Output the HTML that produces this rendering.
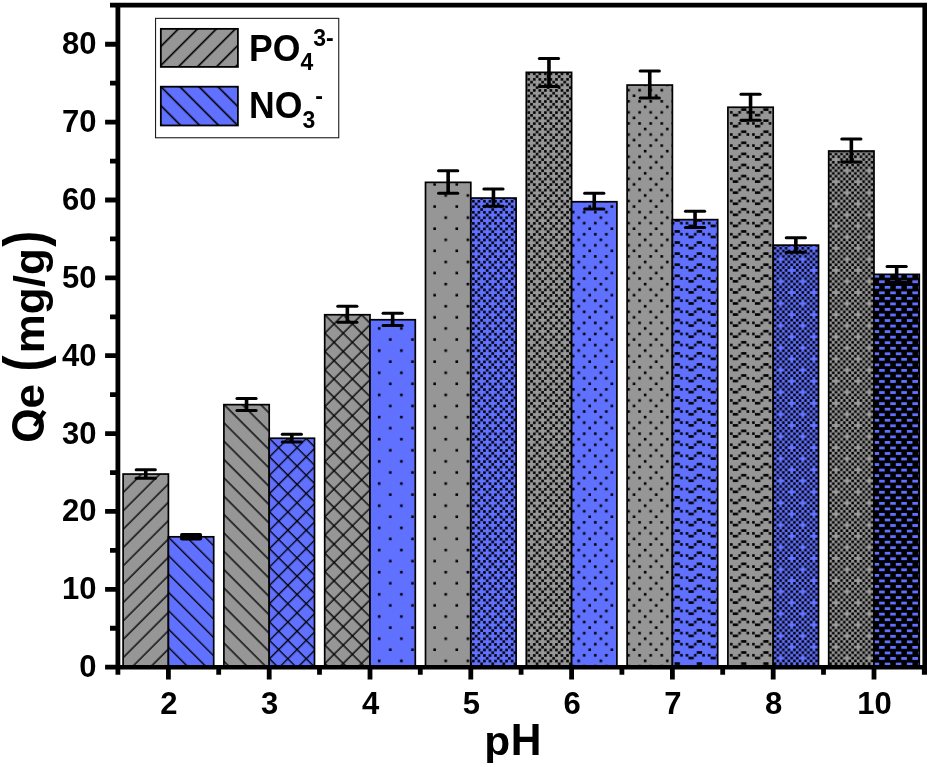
<!DOCTYPE html>
<html><head><meta charset="utf-8"><style>
html,body{margin:0;padding:0;background:#fff;width:930px;height:767px;overflow:hidden}
svg{display:block;font-family:"Liberation Sans",sans-serif;will-change:transform}
</style></head><body>
<svg width="930" height="767" viewBox="0 0 930 767">
<defs><pattern id="dspg" patternUnits="userSpaceOnUse" x="17.75" y="11.27" width="22.16" height="22.16"><rect width="22.16" height="22.16" fill="#969696"/><rect x="5.640" y="5.640" width="2.570" height="2.570" fill="#000"/><rect x="16.720" y="16.720" width="2.570" height="2.570" fill="#000"/></pattern><pattern id="dmeg" patternUnits="userSpaceOnUse" x="17.75" y="11.27" width="22.16" height="22.16"><rect width="22.16" height="22.16" fill="#969696"/><rect x="0.100" y="0.100" width="2.570" height="2.570" fill="#000"/><rect x="11.180" y="0.100" width="2.570" height="2.570" fill="#000"/><rect x="5.640" y="5.640" width="2.570" height="2.570" fill="#000"/><rect x="0.100" y="11.180" width="2.570" height="2.570" fill="#000"/><rect x="11.180" y="11.180" width="2.570" height="2.570" fill="#000"/><rect x="16.720" y="16.720" width="2.570" height="2.570" fill="#000"/></pattern><pattern id="ddeg" patternUnits="userSpaceOnUse" x="6.6" y="0.4" width="11.08" height="11.08"><rect width="11.08" height="11.08" fill="#969696"/><rect x="0.100" y="0.100" width="2.570" height="2.570" fill="#000"/><rect x="5.640" y="0.100" width="2.570" height="2.570" fill="#000"/><rect x="2.870" y="2.870" width="2.570" height="2.570" fill="#000"/><rect x="0.100" y="5.640" width="2.570" height="2.570" fill="#000"/><rect x="5.640" y="5.640" width="2.570" height="2.570" fill="#000"/><rect x="8.410" y="8.410" width="2.570" height="2.570" fill="#000"/></pattern><pattern id="wavg" patternUnits="userSpaceOnUse" x="20.78" y="8.47" width="22.16" height="11.08"><rect width="22.16" height="11.08" fill="#969696"/><rect x="11.180" y="0.100" width="5.340" height="2.570" fill="#000"/><rect x="0.100" y="2.870" width="2.570" height="2.570" fill="#000"/><rect x="8.410" y="2.870" width="2.570" height="2.570" fill="#000"/><rect x="16.720" y="2.870" width="2.570" height="2.570" fill="#000"/><rect x="2.870" y="5.640" width="5.340" height="2.570" fill="#000"/></pattern><pattern id="chkg" patternUnits="userSpaceOnUse" x="14.7" y="3.02" width="22.16" height="22.16"><rect width="22.16" height="22.16" fill="#969696"/><rect x="5.640" y="0.100" width="2.570" height="2.570" fill="#000"/><rect x="11.180" y="0.100" width="2.570" height="2.570" fill="#000"/><rect x="16.720" y="0.100" width="2.570" height="2.570" fill="#000"/><rect x="2.870" y="2.870" width="2.570" height="2.570" fill="#000"/><rect x="8.410" y="2.870" width="2.570" height="2.570" fill="#000"/><rect x="13.950" y="2.870" width="2.570" height="2.570" fill="#000"/><rect x="19.490" y="2.870" width="2.570" height="2.570" fill="#000"/><rect x="0.100" y="5.640" width="2.570" height="2.570" fill="#000"/><rect x="5.640" y="5.640" width="2.570" height="2.570" fill="#000"/><rect x="11.180" y="5.640" width="2.570" height="2.570" fill="#000"/><rect x="16.720" y="5.640" width="2.570" height="2.570" fill="#000"/><rect x="2.870" y="8.410" width="2.570" height="2.570" fill="#000"/><rect x="8.410" y="8.410" width="2.570" height="2.570" fill="#000"/><rect x="13.950" y="8.410" width="2.570" height="2.570" fill="#000"/><rect x="19.490" y="8.410" width="2.570" height="2.570" fill="#000"/><rect x="0.100" y="11.180" width="2.570" height="2.570" fill="#000"/><rect x="5.640" y="11.180" width="2.570" height="2.570" fill="#000"/><rect x="16.720" y="11.180" width="2.570" height="2.570" fill="#000"/><rect x="2.870" y="13.950" width="2.570" height="2.570" fill="#000"/><rect x="8.410" y="13.950" width="2.570" height="2.570" fill="#000"/><rect x="13.950" y="13.950" width="2.570" height="2.570" fill="#000"/><rect x="19.490" y="13.950" width="2.570" height="2.570" fill="#000"/><rect x="0.100" y="16.720" width="2.570" height="2.570" fill="#000"/><rect x="5.640" y="16.720" width="2.570" height="2.570" fill="#000"/><rect x="11.180" y="16.720" width="2.570" height="2.570" fill="#000"/><rect x="16.720" y="16.720" width="2.570" height="2.570" fill="#000"/><rect x="2.870" y="19.490" width="2.570" height="2.570" fill="#000"/><rect x="8.410" y="19.490" width="2.570" height="2.570" fill="#000"/><rect x="13.950" y="19.490" width="2.570" height="2.570" fill="#000"/><rect x="19.490" y="19.490" width="2.570" height="2.570" fill="#000"/></pattern><pattern id="dashg" patternUnits="userSpaceOnUse" x="9.38" y="8.9" width="11.08" height="11.08"><rect width="11.08" height="11.08" fill="#000"/><rect x="-0.050" y="-0.050" width="5.640" height="2.870" fill="#969696"/><rect x="5.490" y="5.490" width="5.640" height="2.870" fill="#969696"/></pattern><pattern id="dspb" patternUnits="userSpaceOnUse" x="17.75" y="11.27" width="22.16" height="22.16"><rect width="22.16" height="22.16" fill="#6070ff"/><rect x="5.640" y="5.640" width="2.570" height="2.570" fill="#000"/><rect x="16.720" y="16.720" width="2.570" height="2.570" fill="#000"/></pattern><pattern id="dmeb" patternUnits="userSpaceOnUse" x="17.75" y="11.27" width="22.16" height="22.16"><rect width="22.16" height="22.16" fill="#6070ff"/><rect x="0.100" y="0.100" width="2.570" height="2.570" fill="#000"/><rect x="11.180" y="0.100" width="2.570" height="2.570" fill="#000"/><rect x="5.640" y="5.640" width="2.570" height="2.570" fill="#000"/><rect x="0.100" y="11.180" width="2.570" height="2.570" fill="#000"/><rect x="11.180" y="11.180" width="2.570" height="2.570" fill="#000"/><rect x="16.720" y="16.720" width="2.570" height="2.570" fill="#000"/></pattern><pattern id="ddeb" patternUnits="userSpaceOnUse" x="6.6" y="0.4" width="11.08" height="11.08"><rect width="11.08" height="11.08" fill="#6070ff"/><rect x="0.100" y="0.100" width="2.570" height="2.570" fill="#000"/><rect x="5.640" y="0.100" width="2.570" height="2.570" fill="#000"/><rect x="2.870" y="2.870" width="2.570" height="2.570" fill="#000"/><rect x="0.100" y="5.640" width="2.570" height="2.570" fill="#000"/><rect x="5.640" y="5.640" width="2.570" height="2.570" fill="#000"/><rect x="8.410" y="8.410" width="2.570" height="2.570" fill="#000"/></pattern><pattern id="wavb" patternUnits="userSpaceOnUse" x="20.78" y="8.47" width="22.16" height="11.08"><rect width="22.16" height="11.08" fill="#6070ff"/><rect x="11.180" y="0.100" width="5.340" height="2.570" fill="#000"/><rect x="0.100" y="2.870" width="2.570" height="2.570" fill="#000"/><rect x="8.410" y="2.870" width="2.570" height="2.570" fill="#000"/><rect x="16.720" y="2.870" width="2.570" height="2.570" fill="#000"/><rect x="2.870" y="5.640" width="5.340" height="2.570" fill="#000"/></pattern><pattern id="chkb" patternUnits="userSpaceOnUse" x="14.7" y="3.02" width="22.16" height="22.16"><rect width="22.16" height="22.16" fill="#6070ff"/><rect x="5.640" y="0.100" width="2.570" height="2.570" fill="#000"/><rect x="11.180" y="0.100" width="2.570" height="2.570" fill="#000"/><rect x="16.720" y="0.100" width="2.570" height="2.570" fill="#000"/><rect x="2.870" y="2.870" width="2.570" height="2.570" fill="#000"/><rect x="8.410" y="2.870" width="2.570" height="2.570" fill="#000"/><rect x="13.950" y="2.870" width="2.570" height="2.570" fill="#000"/><rect x="19.490" y="2.870" width="2.570" height="2.570" fill="#000"/><rect x="0.100" y="5.640" width="2.570" height="2.570" fill="#000"/><rect x="5.640" y="5.640" width="2.570" height="2.570" fill="#000"/><rect x="11.180" y="5.640" width="2.570" height="2.570" fill="#000"/><rect x="16.720" y="5.640" width="2.570" height="2.570" fill="#000"/><rect x="2.870" y="8.410" width="2.570" height="2.570" fill="#000"/><rect x="8.410" y="8.410" width="2.570" height="2.570" fill="#000"/><rect x="13.950" y="8.410" width="2.570" height="2.570" fill="#000"/><rect x="19.490" y="8.410" width="2.570" height="2.570" fill="#000"/><rect x="0.100" y="11.180" width="2.570" height="2.570" fill="#000"/><rect x="5.640" y="11.180" width="2.570" height="2.570" fill="#000"/><rect x="16.720" y="11.180" width="2.570" height="2.570" fill="#000"/><rect x="2.870" y="13.950" width="2.570" height="2.570" fill="#000"/><rect x="8.410" y="13.950" width="2.570" height="2.570" fill="#000"/><rect x="13.950" y="13.950" width="2.570" height="2.570" fill="#000"/><rect x="19.490" y="13.950" width="2.570" height="2.570" fill="#000"/><rect x="0.100" y="16.720" width="2.570" height="2.570" fill="#000"/><rect x="5.640" y="16.720" width="2.570" height="2.570" fill="#000"/><rect x="11.180" y="16.720" width="2.570" height="2.570" fill="#000"/><rect x="16.720" y="16.720" width="2.570" height="2.570" fill="#000"/><rect x="2.870" y="19.490" width="2.570" height="2.570" fill="#000"/><rect x="8.410" y="19.490" width="2.570" height="2.570" fill="#000"/><rect x="13.950" y="19.490" width="2.570" height="2.570" fill="#000"/><rect x="19.490" y="19.490" width="2.570" height="2.570" fill="#000"/></pattern><pattern id="dashb" patternUnits="userSpaceOnUse" x="9.38" y="8.9" width="11.08" height="11.08"><rect width="11.08" height="11.08" fill="#000"/><rect x="-0.050" y="-0.050" width="5.640" height="2.870" fill="#6070ff"/><rect x="5.490" y="5.490" width="5.640" height="2.870" fill="#6070ff"/></pattern><pattern id="hg0" patternUnits="userSpaceOnUse" width="12.9754" height="12.9754" patternTransform="rotate(45)"><rect width="12.9754" height="12.9754" fill="#969696"/><rect x="6.467" y="0" width="1.35" height="12.9754" fill="#000"/><rect x="-6.509" y="0" width="1.35" height="12.9754" fill="#000"/></pattern><pattern id="hb0" patternUnits="userSpaceOnUse" width="12.9754" height="12.9754" patternTransform="rotate(-45)"><rect width="12.9754" height="12.9754" fill="#6070ff"/><rect x="10.992" y="0" width="1.35" height="12.9754" fill="#000"/><rect x="-1.983" y="0" width="1.35" height="12.9754" fill="#000"/></pattern><pattern id="hg1" patternUnits="userSpaceOnUse" width="12.9754" height="12.9754" patternTransform="rotate(-45)"><rect width="12.9754" height="12.9754" fill="#969696"/><rect x="1.411" y="0" width="1.35" height="12.9754" fill="#000"/><rect x="-11.564" y="0" width="1.35" height="12.9754" fill="#000"/></pattern><pattern id="hb1" patternUnits="userSpaceOnUse" width="12.9754" height="12.9754" patternTransform="rotate(45)"><rect width="12.9754" height="12.9754" fill="#6070ff"/><rect x="6.891" y="0" width="1.35" height="12.9754" fill="#000"/><rect x="-6.084" y="0" width="1.35" height="12.9754" fill="#000"/><rect x="0" y="2.012" width="12.9754" height="1.35" fill="#000"/><rect x="0" y="-10.963" width="12.9754" height="1.35" fill="#000"/></pattern><pattern id="hg2" patternUnits="userSpaceOnUse" width="12.9754" height="12.9754" patternTransform="rotate(45)"><rect width="12.9754" height="12.9754" fill="#969696"/><rect x="10.476" y="0" width="1.35" height="12.9754" fill="#000"/><rect x="-2.499" y="0" width="1.35" height="12.9754" fill="#000"/><rect x="0" y="5.173" width="12.9754" height="1.35" fill="#000"/><rect x="0" y="-7.803" width="12.9754" height="1.35" fill="#000"/></pattern><pattern id="hgL" patternUnits="userSpaceOnUse" width="13.4350" height="13.4350" patternTransform="rotate(45)"><rect width="13.4350" height="13.4350" fill="#969696"/><rect x="11.398" y="0" width="1.6" height="13.4350" fill="#000"/><rect x="-2.037" y="0" width="1.6" height="13.4350" fill="#000"/></pattern><pattern id="hbL" patternUnits="userSpaceOnUse" width="13.4350" height="13.4350" patternTransform="rotate(-45)"><rect width="13.4350" height="13.4350" fill="#6070ff"/><rect x="11.362" y="0" width="1.6" height="13.4350" fill="#000"/><rect x="-2.073" y="0" width="1.6" height="13.4350" fill="#000"/></pattern></defs>
<rect x="123.10" y="474.05" width="45.30" height="193.15" fill="url(#hg0)" stroke="#000" stroke-width="1.7"/>
<rect x="168.40" y="536.80" width="45.30" height="130.40" fill="url(#hb0)" stroke="#000" stroke-width="1.7"/>
<rect x="223.90" y="404.65" width="45.30" height="262.55" fill="url(#hg1)" stroke="#000" stroke-width="1.7"/>
<rect x="269.20" y="438.25" width="45.30" height="228.95" fill="url(#hb1)" stroke="#000" stroke-width="1.7"/>
<rect x="324.70" y="314.75" width="45.30" height="352.45" fill="url(#hg2)" stroke="#000" stroke-width="1.7"/>
<rect x="370.00" y="319.75" width="45.30" height="347.45" fill="url(#dspb)" stroke="#000" stroke-width="1.7"/>
<rect x="425.50" y="182.35" width="45.30" height="484.85" fill="url(#dspg)" stroke="#000" stroke-width="1.7"/>
<rect x="470.80" y="198.05" width="45.30" height="469.15" fill="url(#ddeb)" stroke="#000" stroke-width="1.7"/>
<rect x="526.30" y="72.35" width="45.30" height="594.85" fill="url(#ddeg)" stroke="#000" stroke-width="1.7"/>
<rect x="571.60" y="201.75" width="45.30" height="465.45" fill="url(#dmeb)" stroke="#000" stroke-width="1.7"/>
<rect x="627.10" y="85.05" width="45.30" height="582.15" fill="url(#dmeg)" stroke="#000" stroke-width="1.7"/>
<rect x="672.40" y="219.65" width="45.30" height="447.55" fill="url(#wavb)" stroke="#000" stroke-width="1.7"/>
<rect x="727.90" y="107.25" width="45.30" height="559.95" fill="url(#wavg)" stroke="#000" stroke-width="1.7"/>
<rect x="773.20" y="245.15" width="45.30" height="422.05" fill="url(#chkb)" stroke="#000" stroke-width="1.7"/>
<rect x="828.70" y="151.01" width="45.30" height="516.19" fill="url(#chkg)" stroke="#000" stroke-width="1.7"/>
<rect x="874.00" y="274.35" width="45.30" height="392.85" fill="url(#dashb)" stroke="#000" stroke-width="1.7"/>
<line x1="145.75" y1="469.70" x2="145.75" y2="478.20" stroke="#000" stroke-width="3.6"/><line x1="136.15" y1="469.70" x2="155.35" y2="469.70" stroke="#000" stroke-width="3.0" stroke-linecap="round"/><line x1="136.15" y1="478.20" x2="155.35" y2="478.20" stroke="#000" stroke-width="3.0" stroke-linecap="round"/>
<line x1="191.05" y1="535.10" x2="191.05" y2="538.60" stroke="#000" stroke-width="3.6"/><line x1="181.95" y1="535.10" x2="200.15" y2="535.10" stroke="#000" stroke-width="4.0" stroke-linecap="round"/><line x1="181.95" y1="538.60" x2="200.15" y2="538.60" stroke="#000" stroke-width="4.0" stroke-linecap="round"/>
<line x1="246.55" y1="398.50" x2="246.55" y2="410.50" stroke="#000" stroke-width="3.6"/><line x1="236.95" y1="398.50" x2="256.15" y2="398.50" stroke="#000" stroke-width="3.0" stroke-linecap="round"/><line x1="236.95" y1="410.50" x2="256.15" y2="410.50" stroke="#000" stroke-width="3.0" stroke-linecap="round"/>
<line x1="291.85" y1="434.20" x2="291.85" y2="442.10" stroke="#000" stroke-width="3.6"/><line x1="282.25" y1="434.20" x2="301.45" y2="434.20" stroke="#000" stroke-width="3.0" stroke-linecap="round"/><line x1="282.25" y1="442.10" x2="301.45" y2="442.10" stroke="#000" stroke-width="3.0" stroke-linecap="round"/>
<line x1="347.35" y1="306.30" x2="347.35" y2="322.30" stroke="#000" stroke-width="3.6"/><line x1="337.75" y1="306.30" x2="356.95" y2="306.30" stroke="#000" stroke-width="3.0" stroke-linecap="round"/><line x1="337.75" y1="322.30" x2="356.95" y2="322.30" stroke="#000" stroke-width="3.0" stroke-linecap="round"/>
<line x1="392.65" y1="313.20" x2="392.65" y2="325.50" stroke="#000" stroke-width="3.6"/><line x1="383.05" y1="313.20" x2="402.25" y2="313.20" stroke="#000" stroke-width="3.0" stroke-linecap="round"/><line x1="383.05" y1="325.50" x2="402.25" y2="325.50" stroke="#000" stroke-width="3.0" stroke-linecap="round"/>
<line x1="448.15" y1="170.80" x2="448.15" y2="193.20" stroke="#000" stroke-width="3.6"/><line x1="438.55" y1="170.80" x2="457.75" y2="170.80" stroke="#000" stroke-width="3.0" stroke-linecap="round"/><line x1="438.55" y1="193.20" x2="457.75" y2="193.20" stroke="#000" stroke-width="3.0" stroke-linecap="round"/>
<line x1="493.45" y1="188.90" x2="493.45" y2="206.30" stroke="#000" stroke-width="3.6"/><line x1="483.85" y1="188.90" x2="503.05" y2="188.90" stroke="#000" stroke-width="3.0" stroke-linecap="round"/><line x1="483.85" y1="206.30" x2="503.05" y2="206.30" stroke="#000" stroke-width="3.0" stroke-linecap="round"/>
<line x1="548.95" y1="58.50" x2="548.95" y2="86.50" stroke="#000" stroke-width="3.6"/><line x1="539.35" y1="58.50" x2="558.55" y2="58.50" stroke="#000" stroke-width="3.0" stroke-linecap="round"/><line x1="539.35" y1="86.50" x2="558.55" y2="86.50" stroke="#000" stroke-width="3.0" stroke-linecap="round"/>
<line x1="594.25" y1="193.20" x2="594.25" y2="209.10" stroke="#000" stroke-width="3.6"/><line x1="584.65" y1="193.20" x2="603.85" y2="193.20" stroke="#000" stroke-width="3.0" stroke-linecap="round"/><line x1="584.65" y1="209.10" x2="603.85" y2="209.10" stroke="#000" stroke-width="3.0" stroke-linecap="round"/>
<line x1="649.75" y1="71.10" x2="649.75" y2="98.00" stroke="#000" stroke-width="3.6"/><line x1="640.15" y1="71.10" x2="659.35" y2="71.10" stroke="#000" stroke-width="3.0" stroke-linecap="round"/><line x1="640.15" y1="98.00" x2="659.35" y2="98.00" stroke="#000" stroke-width="3.0" stroke-linecap="round"/>
<line x1="695.05" y1="211.30" x2="695.05" y2="227.40" stroke="#000" stroke-width="3.6"/><line x1="685.45" y1="211.30" x2="704.65" y2="211.30" stroke="#000" stroke-width="3.0" stroke-linecap="round"/><line x1="685.45" y1="227.40" x2="704.65" y2="227.40" stroke="#000" stroke-width="3.0" stroke-linecap="round"/>
<line x1="750.55" y1="94.20" x2="750.55" y2="120.20" stroke="#000" stroke-width="3.6"/><line x1="740.95" y1="94.20" x2="760.15" y2="94.20" stroke="#000" stroke-width="3.0" stroke-linecap="round"/><line x1="740.95" y1="120.20" x2="760.15" y2="120.20" stroke="#000" stroke-width="3.0" stroke-linecap="round"/>
<line x1="795.85" y1="237.70" x2="795.85" y2="252.30" stroke="#000" stroke-width="3.6"/><line x1="786.25" y1="237.70" x2="805.45" y2="237.70" stroke="#000" stroke-width="3.0" stroke-linecap="round"/><line x1="786.25" y1="252.30" x2="805.45" y2="252.30" stroke="#000" stroke-width="3.0" stroke-linecap="round"/>
<line x1="851.35" y1="138.90" x2="851.35" y2="162.00" stroke="#000" stroke-width="3.6"/><line x1="841.75" y1="138.90" x2="860.95" y2="138.90" stroke="#000" stroke-width="3.0" stroke-linecap="round"/><line x1="841.75" y1="162.00" x2="860.95" y2="162.00" stroke="#000" stroke-width="3.0" stroke-linecap="round"/>
<line x1="896.65" y1="266.60" x2="896.65" y2="282.20" stroke="#000" stroke-width="3.6"/><line x1="887.05" y1="266.60" x2="906.25" y2="266.60" stroke="#000" stroke-width="3.0" stroke-linecap="round"/><line x1="887.05" y1="282.20" x2="906.25" y2="282.20" stroke="#000" stroke-width="3.0" stroke-linecap="round"/>
<path fill="#000" fill-rule="nonzero" d="M110.00 2.70h817.00v4.80h-817.00zM115.50 2.70h4.80v666.75h-4.80zM922.40 2.70h4.60v672.10h-4.60zM105.10 664.95h819.60v4.50h-819.60zM105.10 664.80h12.80v4.80h-12.80zM110.00 625.87h7.90v4.80h-7.90zM105.10 586.93h12.80v4.80h-12.80zM110.00 548.00h7.90v4.80h-7.90zM105.10 509.06h12.80v4.80h-12.80zM110.00 470.13h7.90v4.80h-7.90zM105.10 431.19h12.80v4.80h-12.80zM110.00 392.26h7.90v4.80h-7.90zM105.10 353.32h12.80v4.80h-12.80zM110.00 314.39h7.90v4.80h-7.90zM105.10 275.45h12.80v4.80h-12.80zM110.00 236.52h7.90v4.80h-7.90zM105.10 197.58h12.80v4.80h-12.80zM110.00 158.65h7.90v4.80h-7.90zM105.10 119.71h12.80v4.80h-12.80zM110.00 80.78h7.90v4.80h-7.90zM105.10 41.84h12.80v4.80h-12.80zM115.50 667.20h4.80v7.60h-4.80zM216.30 667.20h4.80v7.60h-4.80zM317.10 667.20h4.80v7.60h-4.80zM417.90 667.20h4.80v7.60h-4.80zM518.70 667.20h4.80v7.60h-4.80zM619.50 667.20h4.80v7.60h-4.80zM720.30 667.20h4.80v7.60h-4.80zM821.10 667.20h4.80v7.60h-4.80zM921.90 667.20h4.80v7.60h-4.80zM166.00 667.20h4.80v12.40h-4.80zM266.80 667.20h4.80v12.40h-4.80zM367.60 667.20h4.80v12.40h-4.80zM468.40 667.20h4.80v12.40h-4.80zM569.20 667.20h4.80v12.40h-4.80zM670.00 667.20h4.80v12.40h-4.80zM770.80 667.20h4.80v12.40h-4.80zM871.60 667.20h4.80v12.40h-4.80z"/>
<g transform="translate(96.50 677.20) scale(1 1.04)"><text x="0" y="0" font-family="Liberation Sans, sans-serif" font-weight="bold" font-size="31" text-anchor="end" >0</text></g>
<g transform="translate(96.50 599.33) scale(1 1.04)"><text x="0" y="0" font-family="Liberation Sans, sans-serif" font-weight="bold" font-size="31" text-anchor="end" >10</text></g>
<g transform="translate(96.50 521.46) scale(1 1.04)"><text x="0" y="0" font-family="Liberation Sans, sans-serif" font-weight="bold" font-size="31" text-anchor="end" >20</text></g>
<g transform="translate(96.50 443.59) scale(1 1.04)"><text x="0" y="0" font-family="Liberation Sans, sans-serif" font-weight="bold" font-size="31" text-anchor="end" >30</text></g>
<g transform="translate(96.50 365.72) scale(1 1.04)"><text x="0" y="0" font-family="Liberation Sans, sans-serif" font-weight="bold" font-size="31" text-anchor="end" >40</text></g>
<g transform="translate(96.50 287.85) scale(1 1.04)"><text x="0" y="0" font-family="Liberation Sans, sans-serif" font-weight="bold" font-size="31" text-anchor="end" >50</text></g>
<g transform="translate(96.50 209.98) scale(1 1.04)"><text x="0" y="0" font-family="Liberation Sans, sans-serif" font-weight="bold" font-size="31" text-anchor="end" >60</text></g>
<g transform="translate(96.50 132.11) scale(1 1.04)"><text x="0" y="0" font-family="Liberation Sans, sans-serif" font-weight="bold" font-size="31" text-anchor="end" >70</text></g>
<g transform="translate(96.50 54.24) scale(1 1.04)"><text x="0" y="0" font-family="Liberation Sans, sans-serif" font-weight="bold" font-size="31" text-anchor="end" >80</text></g>
<g transform="translate(168.90 713.90) scale(1 1.04)"><text x="0" y="0" font-family="Liberation Sans, sans-serif" font-weight="bold" font-size="31" text-anchor="middle" >2</text></g>
<g transform="translate(269.70 713.90) scale(1 1.04)"><text x="0" y="0" font-family="Liberation Sans, sans-serif" font-weight="bold" font-size="31" text-anchor="middle" >3</text></g>
<g transform="translate(370.50 713.90) scale(1 1.04)"><text x="0" y="0" font-family="Liberation Sans, sans-serif" font-weight="bold" font-size="31" text-anchor="middle" >4</text></g>
<g transform="translate(471.30 713.90) scale(1 1.04)"><text x="0" y="0" font-family="Liberation Sans, sans-serif" font-weight="bold" font-size="31" text-anchor="middle" >5</text></g>
<g transform="translate(572.10 713.90) scale(1 1.04)"><text x="0" y="0" font-family="Liberation Sans, sans-serif" font-weight="bold" font-size="31" text-anchor="middle" >6</text></g>
<g transform="translate(672.90 713.90) scale(1 1.04)"><text x="0" y="0" font-family="Liberation Sans, sans-serif" font-weight="bold" font-size="31" text-anchor="middle" >7</text></g>
<g transform="translate(773.70 713.90) scale(1 1.04)"><text x="0" y="0" font-family="Liberation Sans, sans-serif" font-weight="bold" font-size="31" text-anchor="middle" >8</text></g>
<g transform="translate(874.50 713.90) scale(1 1.04)"><text x="0" y="0" font-family="Liberation Sans, sans-serif" font-weight="bold" font-size="31" text-anchor="middle" >10</text></g>
<g transform="translate(484.37 755.00) scale(1 0.97)"><text x="0" y="0" font-family="Liberation Sans, sans-serif" font-weight="bold" font-size="42.5" text-anchor="start" >p</text></g>
<g transform="translate(510.74 755.00) scale(1 1.04)"><text x="0" y="0" font-family="Liberation Sans, sans-serif" font-weight="bold" font-size="42.5" text-anchor="start" >H</text></g>
<g transform="translate(43.7 442.8) rotate(-90) scale(1 1.04)"><text x="0" y="0" font-family="Liberation Sans, sans-serif" font-weight="bold" font-size="44">O</text></g>
<g transform="translate(43.7 442.8) rotate(-90) scale(1 0.97)"><text x="34.23" y="0" font-family="Liberation Sans, sans-serif" font-weight="bold" font-size="44">e</text></g>
<polygon points="33.0,425.1 36.0,426.8 46.4,412.4 42.5,410.1" fill="#000"/>
<g transform="translate(43.7 442.8) rotate(-90) scale(1 0.97)"><text x="89.5" y="0" font-family="Liberation Sans, sans-serif" font-weight="bold" font-size="44">mg/g</text></g>
<g transform="translate(43.7 371.5) rotate(-90) scale(1 1.18)"><text x="0" y="0" font-family="Liberation Sans, sans-serif" font-weight="bold" font-size="48">(</text></g>
<g transform="translate(43.7 246.8) rotate(-90) scale(1 1.18)"><text x="0" y="0" font-family="Liberation Sans, sans-serif" font-weight="bold" font-size="48">)</text></g>
<rect x="155.54" y="18.36" width="183.2" height="119.4" fill="#fff" stroke="#1c1c1c" stroke-width="1.1"/>
<rect x="160.84" y="28.87" width="77.06" height="38.02" fill="url(#hgL)" stroke="#000" stroke-width="1.8"/>
<rect x="160.84" y="86.7" width="77.06" height="38.76" fill="url(#hbL)" stroke="#000" stroke-width="1.8"/>
<g transform="translate(249.00 60.60) scale(1 1.04)"><text x="0" y="0" font-family="Liberation Sans, sans-serif" font-weight="bold" font-size="35.6" text-anchor="start" >PO<tspan font-size="23" dy="9.4">4</tspan><tspan font-size="23" dy="-23.6">3-</tspan></text></g>
<g transform="translate(249.00 118.30) scale(1 1.04)"><text x="0" y="0" font-family="Liberation Sans, sans-serif" font-weight="bold" font-size="35.6" text-anchor="start" >NO<tspan font-size="23" dy="9.4">3</tspan><tspan font-size="23" dy="-23.6">-</tspan></text></g>
</svg>
</body></html>
